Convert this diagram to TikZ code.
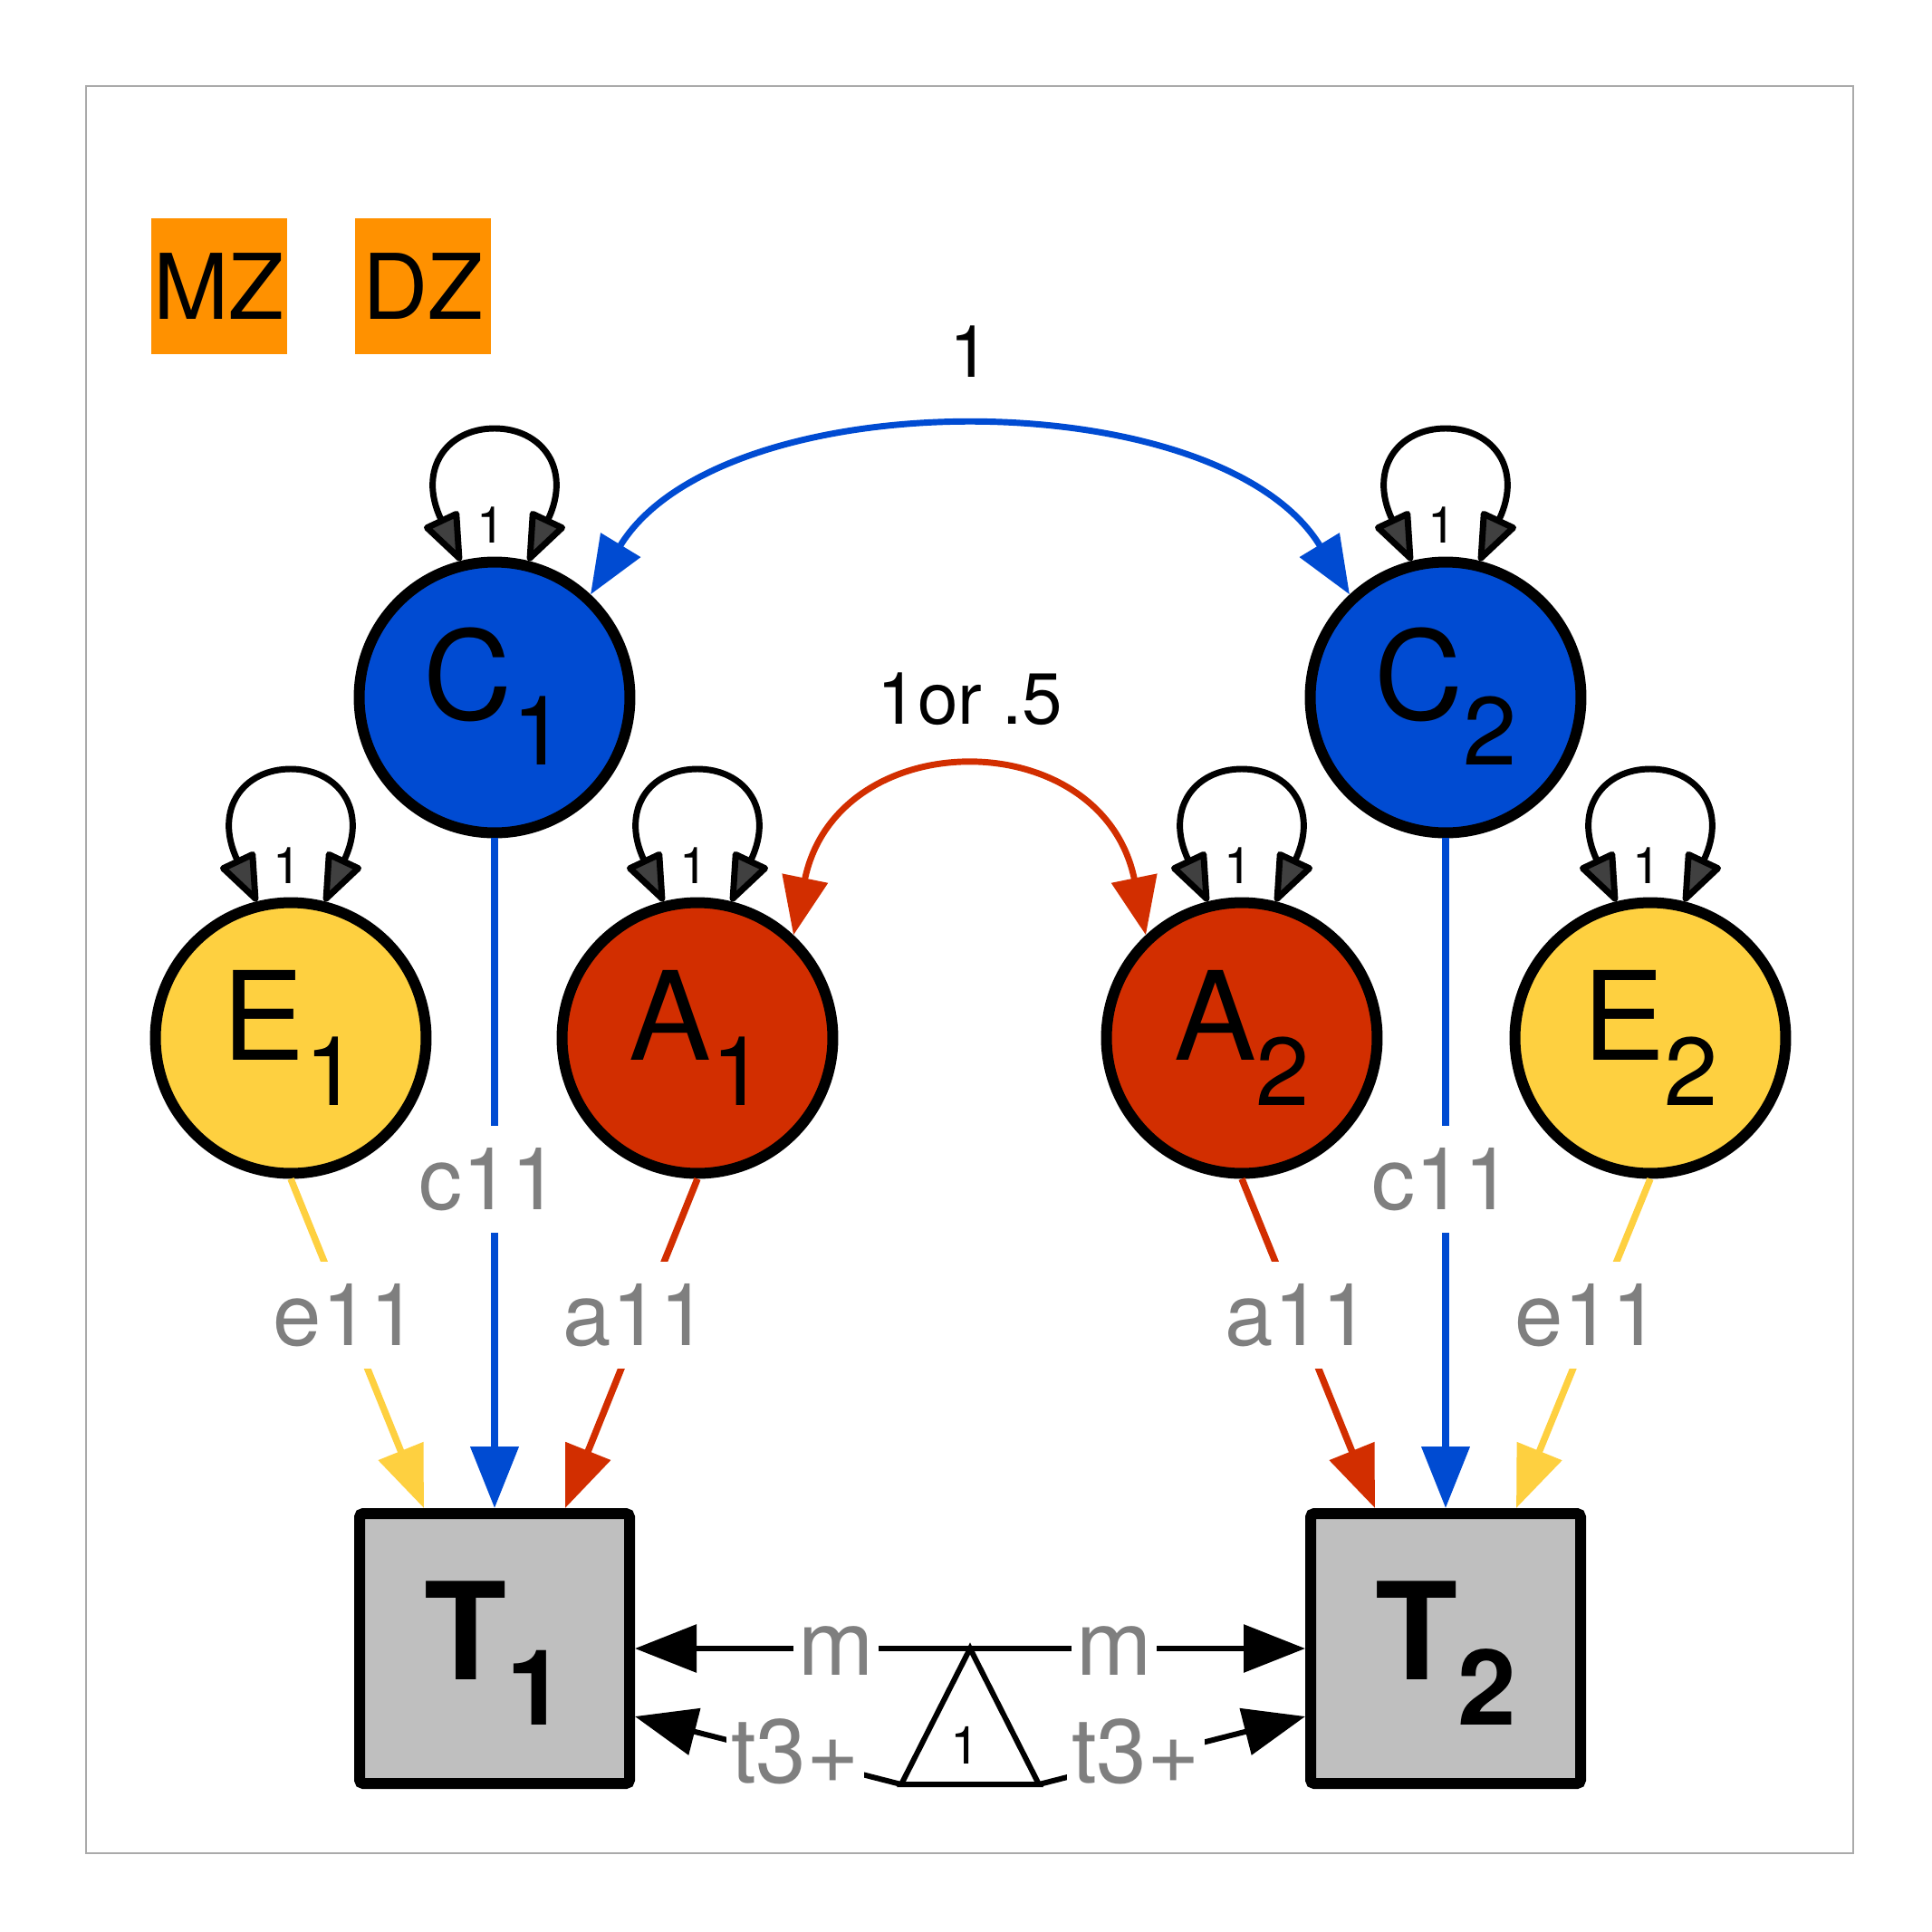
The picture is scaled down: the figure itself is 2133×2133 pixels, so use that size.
\documentclass[tikz,border=0pt]{standalone}
\usepackage{fontspec}
\setmainfont{TeX Gyre Heros}
\usetikzlibrary{arrows.meta,calc}
\definecolor{cblue}{RGB}{0,75,210}
\definecolor{cred}{RGB}{210,46,0}
\definecolor{cyel}{RGB}{254,208,64}
\definecolor{corange}{RGB}{255,145,0}
\definecolor{tgray}{RGB}{191,191,191}
\definecolor{lgray}{RGB}{127,127,127}
\definecolor{agray}{RGB}{64,64,64}
\definecolor{fgray}{RGB}{170,170,170}
\newcommand{\myfs}[1]{\fontsize{#1}{#1}\selectfont}
\begin{document}
\begin{tikzpicture}[x=0.375pt,y=-0.375pt,
  latent/.style={circle,draw=black,line width=4.5pt,minimum size=112.1pt,inner sep=0pt},
  manifest/.style={rectangle,draw=black,fill=tgray,line width=4.5pt,minimum size=111.75pt,inner sep=0pt,rounded corners=1.5pt},
  grp/.style={rectangle,fill=corange,minimum size=56.25pt,inner sep=0pt,font=\myfs{37.5pt}},
  ltext/.style={anchor=base,inner sep=0pt},
  sem/.style={line width=2.8pt,-{Triangle[length=25.5pt,width=19.5pt]}},
  cov/.style={line width=2.6pt,{Triangle[length=24pt,width=18.75pt]}-{Triangle[length=24pt,width=18.75pt]}},
  var/.style={line width=2.6pt,draw=black,line cap=round,{Triangle[length=22pt,width=16.5pt,fill=agray,round]}-{Triangle[length=22pt,width=16.5pt,fill=agray,round]}},
  lab/.style={fill=white,text=lgray,inner xsep=2pt,inner ysep=9pt,font=\myfs{36pt}},
  varlab/.style={inner sep=0pt,font=\myfs{21pt}},
  covlab/.style={inner sep=0pt,font=\myfs{30pt}},
]
\useasboundingbox (0,0) rectangle (2133,2133);
\draw[fgray,line width=1.1pt] (95,95) rectangle (2046,2046);

\node[grp] (MZ) at (241.7,316) {MZ};
\node[grp] (DZ) at (466.7,316) {DZ};

\node[latent,fill=cblue] (C1) at (546,770) {};
\node[latent,fill=cblue] (C2) at (1596,770) {};
\node[latent,fill=cyel] (E1) at (321,1146) {};
\node[latent,fill=cred] (A1) at (770,1146) {};
\node[latent,fill=cred] (A2) at (1371,1146) {};
\node[latent,fill=cyel] (E2) at (1822,1146) {};
\node[manifest] (T1) at (546,1820) {};
\node[manifest] (T2) at (1596,1820) {};

\node[ltext] (C1l) at ($(C1)+(0,24)$) {\myfs{51pt}C\lower18.75pt\hbox{\myfs{40pt}1}};
\node[ltext] (C2l) at ($(C2)+(0,24)$) {\myfs{51pt}C\lower18.75pt\hbox{\myfs{40pt}2}};
\node[ltext] (E1l) at ($(E1)+(0,24)$) {\myfs{51pt}E\lower18.75pt\hbox{\myfs{40pt}1}};
\node[ltext] (A1l) at ($(A1)+(0,24)$) {\myfs{51pt}A\lower18.75pt\hbox{\myfs{40pt}1}};
\node[ltext] (A2l) at ($(A2)+(0,24)$) {\myfs{51pt}A\lower18.75pt\hbox{\myfs{40pt}2}};
\node[ltext] (E2l) at ($(E2)+(0,24)$) {\myfs{51pt}E\lower18.75pt\hbox{\myfs{40pt}2}};
\node[ltext] (T1l) at ($(T1)+(0,34)$) {\myfs{55.9pt}\bfseries T\lower18.75pt\hbox{\myfs{43.5pt}\bfseries 1}};
\node[ltext] (T2l) at ($(T2)+(0,34)$) {\myfs{55.9pt}\bfseries T\lower18.75pt\hbox{\myfs{43.5pt}\bfseries 2}};

\foreach \n in {C1,C2,E1,A1,A2,E2}{
  \draw[var] (\n.104) .. controls +(-48,-102) and +(-52,0) .. ($(\n)+(0,-297)$)
     .. controls +(52,0) and +(48,-102) .. (\n.76);
  \node[varlab] (v\n) at ($(\n)+(-4,-190)$) {1};
}

\draw[cov,cblue] (C1.47) .. controls +(144,-237) and +(-144,-237) .. (C2.133);
\node[covlab] (cc) at (1071,388) {1};
\draw[cov,cred] (A1.47) .. controls +(48,-235) and +(-48,-235) .. (A2.133);
\node[covlab] (ac) at (1071,772) {1or .5};

\draw[sem,cblue] (C1.south) -- (T1.north);
\draw[sem,cred] (A1.south) -- ($(T1.north)+(78,0)$);
\draw[sem,cyel] (E1.south) -- ($(T1.north)+(-78,0)$);
\draw[sem,cblue] (C2.south) -- (T2.north);
\draw[sem,cred] (A2.south) -- ($(T2.north)+(-78,0)$);
\draw[sem,cyel] (E2.south) -- ($(T2.north)+(78,0)$);

\node[lab] (c1) at (540,1302) {c11};
\node[lab] (a1) at (702,1452) {a11};
\node[lab] (e1) at (382,1452) {e11};
\node[lab] (c2) at (1592,1302) {c11};
\node[lab] (a2) at (1433,1452) {a11};
\node[lab] (e2) at (1753,1452) {e11};

\coordinate (apex) at (1071,1820);
\coordinate (bl) at (995,1970);
\coordinate (br) at (1147,1970);
\draw[sem,black,line width=2.25pt] (apex) -- (T1.east);
\draw[sem,black,line width=2.25pt] (apex) -- (T2.west);
\draw[sem,black,line width=2.25pt] (bl) -- ($(T1.east)+(0,75)$);
\draw[sem,black,line width=2.25pt] (br) -- ($(T2.west)+(0,75)$);
\draw[line width=2.25pt,fill=white] (apex) -- (bl) -- (br) -- cycle;
\node[inner sep=0pt,font=\myfs{21.75pt}] (one) at (1066,1927) {1};

\node[lab,font=\myfs{37.5pt}] (m1) at (923,1823) {m};
\node[lab,font=\myfs{37.5pt}] (m2) at (1230,1823) {m};
\node[lab,font=\myfs{37.5pt}] (t1) at (878,1934) {t3+};
\node[lab,font=\myfs{37.5pt}] (t2) at (1254,1934) {t3+};
\end{tikzpicture}
\end{document}
